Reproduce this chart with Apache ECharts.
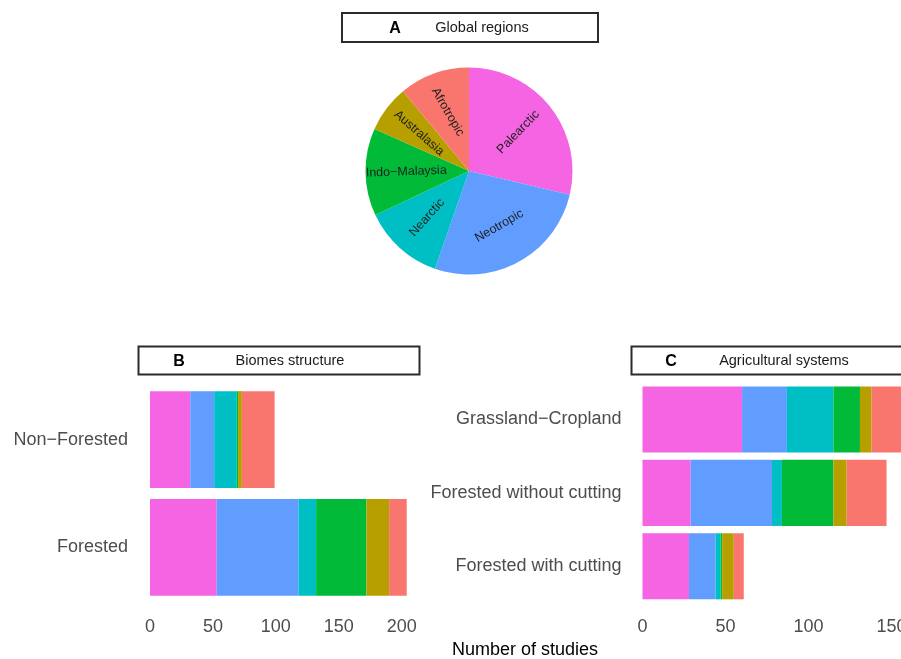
<!DOCTYPE html>
<html>
<head>
<meta charset="utf-8">
<script src="https://cdn.jsdelivr.net/npm/echarts@6/dist/echarts.min.js"></script>
<style>
html,body{margin:0;padding:0;background:#fff;overflow:hidden;width:901px;height:659px;}
#c{width:960px;height:659px;}
</style>
</head>
<body>
<div id="c"></div>
<script>
// ---- data ----
const regions = ['Palearctic', 'Neotropic', 'Nearctic', 'Indo\u2212Malaysia', 'Australasia', 'Afrotropic'];
const regionColors = ['#F564E3', '#619CFF', '#00BFC4', '#00BA38', '#B79F00', '#F8766D'];
const pieValues = [86, 80, 38, 41, 22, 33];

const biomeCategories = ['Forested', 'Non\u2212Forested'];
const biomeForested = [53, 65, 14, 40, 18, 14];
const biomeNonForested = [32, 19, 18, 1, 3, 26];

const agriCategories = ['Forested with cutting', 'Forested without cutting', 'Grassland\u2212Cropland'];
const agriWithCutting = [28, 16, 3, 1, 7, 6];
const agriWithoutCutting = [29, 49, 6, 31, 8, 24];
const agriGrassland = [60, 27, 28, 16, 7, 19];

const xTickStep = 50;

// label style: text angle (degrees) of each pie label, as in the reference
const pieLabelAngles = [46, 30, 48, 2, -41, -60];

// ---- chart ----
const FONT = 'Liberation Sans, Arial, Helvetica, sans-serif';
const chart = echarts.init(document.getElementById('c'), null, {renderer: 'canvas'});

const pieData = regions.map((r, i) => ({name: r, value: pieValues[i], itemStyle: {color: regionColors[i]}}));

const series = [
  {
    type: 'pie', center: [469, 171], radius: [0, 103.5], startAngle: 90, clockwise: true,
    data: pieData, label: {show: false}, labelLine: {show: false}, silent: true, animation: false
  },
  {
    type: 'pie', center: [469, 171], radius: [16, 103.5], startAngle: 90, clockwise: true,
    data: pieData.map((d, i) => ({name: d.name, value: d.value, itemStyle: {color: 'rgba(0,0,0,0)'},
                                  label: {rotate: pieLabelAngles[i]}})),
    label: {show: true, position: 'inside', formatter: '{b}', color: '#1e1e1e',
            fontSize: 12.5, fontFamily: FONT, overflow: 'none'},
    labelLine: {show: false}, silent: true, animation: false
  }
];

regions.forEach((r, i) => {
  series.push({
    type: 'bar', name: r, stack: 'b', xAxisIndex: 0, yAxisIndex: 0, barWidth: '90%',
    itemStyle: {color: regionColors[i]}, animation: false,
    data: [biomeForested[i], biomeNonForested[i]]
  });
});
regions.forEach((r, i) => {
  series.push({
    type: 'bar', name: r, stack: 'c', xAxisIndex: 1, yAxisIndex: 1, barWidth: '90%',
    itemStyle: {color: regionColors[i]}, animation: false,
    data: [agriWithCutting[i], agriWithoutCutting[i], agriGrassland[i]]
  });
});

const tickFmt = v => (v % xTickStep === 0 ? String(v) : '');

function xAx(gridIndex, max, margin) {
  return {
    type: 'value', gridIndex, min: 0, max, interval: xTickStep,
    axisLine: {show: false}, axisTick: {show: false}, splitLine: {show: false},
    axisLabel: {formatter: tickFmt, fontSize: 18, color: '#4d4d4d', fontFamily: FONT, margin,
                showMaxLabel: false}
  };
}
function yAx(gridIndex, data, margin) {
  return {
    type: 'category', gridIndex, data,
    axisLine: {show: false}, axisTick: {show: false}, splitLine: {show: false},
    axisLabel: {fontSize: 18, color: '#4d4d4d', fontFamily: FONT, margin}
  };
}

function boxTitle(x, y, w, h, letter, letterX, text, textX) {
  return [
    {type: 'rect', shape: {x, y, width: w, height: h},
     style: {fill: '#fff', stroke: '#2b2b2b', lineWidth: 2}},
    {type: 'text', x: letterX, y: y + h / 2 + 1,
     style: {text: letter, font: 'bold 16px ' + FONT, fill: '#000', textAlign: 'center', textVerticalAlign: 'middle'}},
    {type: 'text', x: textX, y: y + h / 2,
     style: {text: text, font: '14.5px ' + FONT, fill: '#1a1a1a', textAlign: 'center', textVerticalAlign: 'middle'}}
  ];
}

const option = {
  backgroundColor: '#fff',
  animation: false,
  grid: [
    {left: 150, top: 385.75, width: 214 * 1.2585, height: 215.5},
    {left: 642.5, top: 382.8, width: 164 * 1.66, height: 220.2}
  ],
  xAxis: [xAx(0, 214, 17), xAx(1, 164, 15.5)],
  yAxis: [yAx(0, biomeCategories, 22), yAx(1, agriCategories, 21)],
  series,
  graphic: [
    ...boxTitle(342, 13, 256, 29, 'A', 395, 'Global regions', 482),
    ...boxTitle(138.5, 346.5, 281, 28, 'B', 179, 'Biomes structure', 290),
    ...boxTitle(631.5, 346.5, 283, 28, 'C', 671, 'Agricultural systems', 784),
    {type: 'text', x: 525, y: 650,
     style: {text: 'Number of studies', font: '18px ' + FONT, fill: '#000', textAlign: 'center', textVerticalAlign: 'middle'}}
  ]
};
chart.setOption(option);
</script>
</body>
</html>
